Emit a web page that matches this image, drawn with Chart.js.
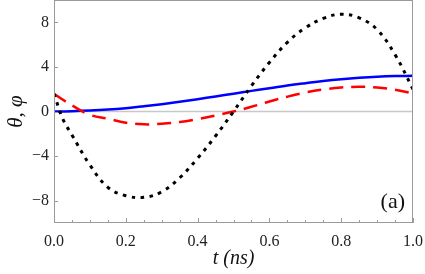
<!DOCTYPE html>
<html>
<head>
<meta charset="utf-8">
<script src="https://cdn.jsdelivr.net/npm/chart.js@4"></script>
<style>
  body { margin: 0; background: #fff; }
  #wrap { width: 425px; height: 274px; }
</style>
</head>
<body>
<div id="wrap"><canvas id="thetaPhi"></canvas></div>
<script>
// time axis (ns)
const tValues = [0, 0.025, 0.05, 0.1, 0.15, 0.2, 0.25, 0.3, 0.35, 0.4, 0.45, 0.5,
    0.55, 0.6, 0.65, 0.7, 0.75, 0.8, 0.85, 0.9, 0.95, 1.0];
// blue solid
const thetaValues = [0, 0.005, 0.02, 0.08, 0.17, 0.3, 0.47, 0.66, 0.87, 1.1, 1.35, 1.6,
    1.85, 2.08, 2.33, 2.54, 2.73, 2.89, 3.02, 3.12, 3.18, 3.2];
// red dashed
const phiValues = [1.6, 1.05, 0.55, -0.3, -0.65, -1.0, -1.15, -1.1, -0.95, -0.68, -0.36, 0,
    0.42, 0.9, 1.33, 1.7, 1.97, 2.15, 2.22, 2.15, 1.95, 1.62];
// black dotted
const dotValues = [1.6, -0.7, -2.1, -4.8, -6.8, -7.55, -7.7, -7.2, -5.95, -4.2, -2.2, 0,
    2.3, 4.4, 6.2, 7.5, 8.35, 8.72, 8.4, 7.35, 5.1, 2.0];

const xTicks = [0, 0.2, 0.4, 0.6, 0.8, 1.0];
const xMinorTicks = [0.05, 0.1, 0.15, 0.25, 0.3, 0.35, 0.45, 0.5, 0.55, 0.65, 0.7, 0.75, 0.85, 0.9, 0.95];
const yTicks = [-8, -4, 0, 4, 8];

function toPoints(ys) {
    return tValues.map((t, i) => ({ x: t, y: ys[i] }));
}

const serif = '"Liberation Serif", "Times New Roman", "DejaVu Serif", serif';
const frameColor = "#9a9a9a";

// zero line behind the curves, frame and inward ticks on top
const framePlugin = {
    id: "frame",
    beforeDatasetsDraw(chart) {
        const { ctx, chartArea, scales } = chart;
        const y0 = scales.y.getPixelForValue(0);
        ctx.save();
        ctx.strokeStyle = "#c8c8c8";
        ctx.lineWidth = 1.5;
        ctx.beginPath();
        ctx.moveTo(chartArea.left, y0);
        ctx.lineTo(chartArea.right, y0);
        ctx.stroke();
        ctx.restore();
    },
    afterDatasetsDraw(chart) {
        const { ctx, chartArea, scales } = chart;
        ctx.save();
        ctx.strokeStyle = frameColor;
        ctx.lineWidth = 1;
        ctx.strokeRect(chartArea.left + 0.5, chartArea.top + 0.5,
            chartArea.right - chartArea.left - 1, chartArea.bottom - chartArea.top - 1);
        ctx.beginPath();
        xTicks.forEach(v => {
            const px = Math.round(scales.x.getPixelForValue(v)) + 0.5;
            ctx.moveTo(px, chartArea.bottom);
            ctx.lineTo(px, chartArea.bottom - 5);
        });
        xMinorTicks.forEach(v => {
            const px = Math.round(scales.x.getPixelForValue(v)) + 0.5;
            ctx.moveTo(px, chartArea.bottom);
            ctx.lineTo(px, chartArea.bottom - 3);
        });
        yTicks.forEach(v => {
            const py = Math.round(scales.y.getPixelForValue(v)) + 0.5;
            ctx.moveTo(chartArea.left, py);
            ctx.lineTo(chartArea.left + 4, py);
        });
        ctx.stroke();
        // panel label
        ctx.fillStyle = "#111";
        ctx.font = "22px " + serif;
        ctx.textAlign = "right";
        ctx.textBaseline = "alphabetic";
        ctx.fillText("(a)", chartArea.right - 8, chartArea.bottom - 15);
        ctx.restore();
    }
};

const ctxThetaPhi = document.getElementById("thetaPhi");
const dataThetaPhi = {
    datasets: [{
        label: "dotted",
        data: toPoints(dotValues),
        borderColor: "#000",
        borderWidth: 3,
        borderDash: [3.5, 5.5],
        pointRadius: 0,
        tension: 0.4,
    }, {
        label: "phi",
        data: toPoints(phiValues),
        borderColor: "#ff0000",
        borderWidth: 2.5,
        borderDash: [14, 8],
        pointRadius: 0,
        tension: 0.4,
    }, {
        label: "theta",
        data: toPoints(thetaValues),
        borderColor: "#0000ff",
        borderWidth: 2.5,
        pointRadius: 0,
        tension: 0.4,
    }],
};
const configThetaPhi = {
    type: "line",
    data: dataThetaPhi,
    plugins: [framePlugin],
    options: {
        responsive: true,
        maintainAspectRatio: false,
        animation: false,
        layout: { padding: { top: 0, right: 12, left: 0, bottom: 0 } },
        plugins: { legend: { display: false }, tooltip: { enabled: false } },
        scales: {
            x: {
                type: "linear",
                min: 0,
                max: 1,
                afterBuildTicks: scale => { scale.ticks = xTicks.map(v => ({ value: v })); },
                afterFit: scale => {
                    scale.height = 51;
                    scale.paddingLeft = 0;
                    scale.paddingRight = 0;
                },
                grid: { display: false, drawTicks: false },
                border: { display: false },
                ticks: {
                    color: "#222",
                    padding: 9,
                    maxRotation: 0,
                    font: { family: serif, size: 16 },
                    callback: v => v.toFixed(1),
                },
                title: {
                    display: true,
                    text: "t (ns)",
                    color: "#111",
                    font: { family: serif, size: 20, style: "italic" },
                    padding: { top: 0, bottom: 3 },
                },
            },
            y: {
                type: "linear",
                min: -10,
                max: 10,
                afterBuildTicks: scale => { scale.ticks = yTicks.map(v => ({ value: v })); },
                afterFit: scale => {
                    scale.width = 54;
                    scale.paddingTop = 0;
                    scale.paddingBottom = 0;
                },
                grid: { display: false, drawTicks: false },
                border: { display: false },
                ticks: {
                    color: "#222",
                    padding: 5,
                    font: { family: serif, size: 16 },
                    callback: v => String(v).replace("-", "\u2212"),
                },
                title: {
                    display: true,
                    text: "\u03b8, \u03c6",
                    color: "#111",
                    font: { family: serif, size: 21, style: "italic" },
                    padding: { top: 4, bottom: 0 },
                },
            },
        },
    },
};
new Chart(ctxThetaPhi, configThetaPhi);
</script>
</body>
</html>
